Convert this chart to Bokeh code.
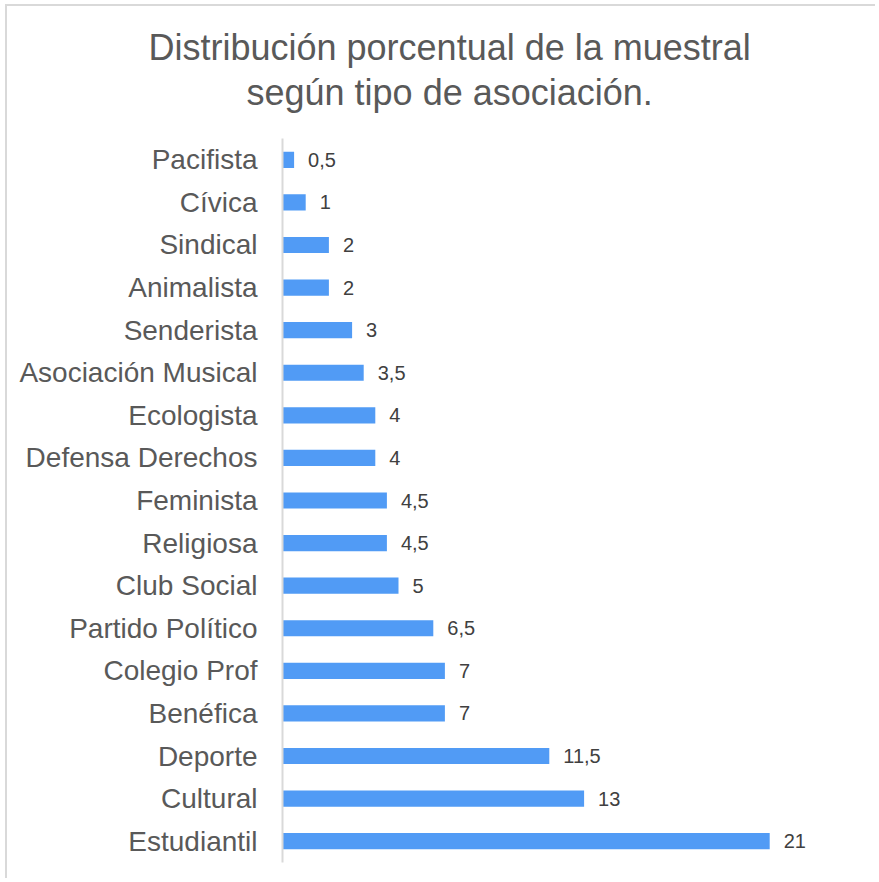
from bokeh.plotting import figure
from bokeh.models import FactorRange, Range1d, Title, ColumnDataSource
from bokeh.embed import file_html
from bokeh.resources import INLINE
from bokeh.core.properties import value

categories = ["Estudiantil", "Cultural", "Deporte", "Benéfica", "Colegio Prof",
              "Partido Político", "Club Social", "Religiosa", "Feminista",
              "Defensa Derechos", "Ecologista", "Asociación Musical", "Senderista",
              "Animalista", "Sindical", "Cívica", "Pacifista"]
values = [21, 13, 11.5, 7, 7, 6.5, 5, 4.5, 4.5, 4, 4, 3.5, 3, 2, 2, 1, 0.5]
labels = [f"{v:g}".replace(".", ",") for v in values]
title_lines = ["Distribución porcentual de la muestral", "según tipo de asociación."]

FONT = "Liberation Sans"
source = ColumnDataSource(dict(cat=categories, val=values, lab=labels))

p = figure(width=870, height=874,
           y_range=FactorRange(factors=categories), x_range=Range1d(0, 25),
           output_backend="svg", toolbar_location=None, title_location=None,
           min_border_left=275, min_border_right=15, min_border_top=132,
           min_border_bottom=18,
           styles={"margin-left": "5px", "margin-top": "4px",
                   "border-left": "2px solid #d9d9d9", "border-top": "2px solid #d9d9d9"})

p.hbar(y="cat", right="val", left=0, height=0.38, source=source,
       fill_color="#519bf5", line_color=None)
p.text(x="val", y="cat", text="lab", source=source, x_offset=14,
       text_baseline="middle", text_align="left", text_color="#404040",
       text_font=value(FONT), text_font_size="20px")

p.add_layout(Title(text=title_lines[1], align="left", text_font=FONT,
                   text_font_size="36px", text_font_style="normal",
                   text_color="#595959", standoff=51, offset=-36), "above")
p.add_layout(Title(text=title_lines[0], align="left", text_font=FONT,
                   text_font_size="36px", text_font_style="normal",
                   text_color="#595959", standoff=-47, offset=-134), "above")

p.xaxis.visible = False
p.xgrid.visible = False
p.ygrid.visible = False
p.outline_line_color = None

ax = p.yaxis[0]
ax.axis_line_color = "#d9d9d9"
ax.axis_line_width = 2
ax.major_tick_line_color = None
ax.minor_tick_line_color = None
ax.major_label_standoff = 19
ax.major_label_text_font = FONT
ax.major_label_text_font_size = "28px"
ax.major_label_text_color = "#595959"

open("out.html", "w").write(file_html(p, INLINE))
